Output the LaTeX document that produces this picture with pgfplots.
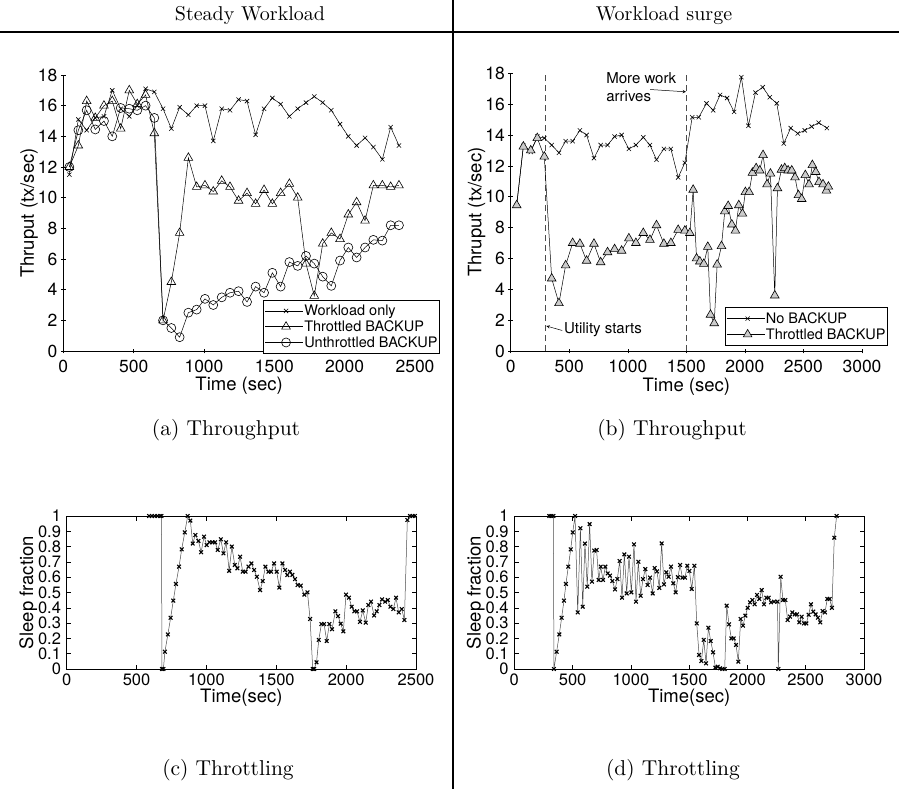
\documentclass[border=0pt]{standalone}
\usepackage{fontspec}
\usepackage{graphicx}
\newfontfamily\hv{TeX Gyre Heros}
\usepackage{pgfplots}
\usepackage{pgfplotstable}
\pgfplotsset{compat=1.18}
\newcommand\tkf{\hv\fontsize{17.5}{18}\selectfont}
\newcommand\tkbf{\hv\fontsize{16.5}{17}\selectfont}
\newcommand\labf{\hv\fontsize{18.5}{20}\selectfont}
\newcommand\lgf{\hv\fontsize{14.5}{16}\selectfont}
\newcommand\anf{\hv\fontsize{15}{17}\selectfont}

\pgfplotstableread{
x w t u
43 11.5 12.0 12.0
107 15.1 13.4 14.4
166 14.4 16.3 15.7
227 15.2 15.2 14.45
289 15.3 16.0 15.0
348 17.0 16.3 14.0
408 15.8 14.5 15.85
469 15.3 17.0 15.8
526 16.0 16.1 15.7
585 17.1 16.7 16.0
647 16.9 14.2 15.2
709 15.8 2.0 2.0
768 14.5 4.5 1.5
827 15.9 7.7 0.9
889 15.4 12.6 2.5
948 16.0 10.7 2.7
1007 16.0 10.8 3.4
1066 13.7 10.4 3.0
1126 15.8 11.1 3.5
1185 15.7 10.7 3.8
1246 16.4 9.8 3.9
1306 16.3 10.3 3.2
1367 14.1 9.6 4.2
1427 15.8 10.5 3.8
1486 16.5 9.6 5.1
1545 16.1 10.3 4.2
1607 15.3 10.9 5.8
1666 15.8 10.0 5.55
1725 16.2 5.7 6.2
1784 16.6 3.6 5.7
1844 16.2 7.0 4.85
1905 15.7 7.7 4.25
1967 14.8 7.3 5.9
2026 14.0 8.9 6.75
2085 13.4 9.7 6.1
2145 13.9 8.5 6.75
2204 13.3 10.8 7.25
2268 12.5 10.8 7.2
2327 14.6 10.7 8.2
2386 13.4 10.8 8.2
}\tl

\pgfplotstableread{
x y
51 9.45
108 13.3
171 12.9
227 13.9
287 13.8
350 13.35
412 12.85
469 13.6
529 13.6
591 14.3
648 14.0
711 12.5
768 13.35
827 13.35
887 13.9
947 14.0
1009 13.1
1069 13.35
1132 13.85
1189 13.35
1245 12.4
1308 13.1
1368 13.1
1430 11.25
1487 12.2
1550 15.15
1606 15.15
1672 16.05
1729 15.6
1788 16.6
1848 16.4
1908 15.5
1970 17.75
2030 14.6
2090 16.75
2152 17.1
2212 16.45
2272 16.05
2332 13.45
2391 14.45
2451 14.1
2511 14.3
2570 14.55
2630 14.8
2700 14.45
}\trn

\pgfplotstableread{
x y
51 9.45
108 13.25
171 13.0
227 13.8
287 12.6
350 4.7
412 3.1
469 5.55
529 7.0
591 6.95
648 5.85
711 6.95
768 5.75
827 6.4
887 6.6
947 6.5
1009 7.3
1069 7.0
1132 7.65
1189 7.2
1245 8.15
1308 6.95
1368 7.0
1430 7.85
1487 7.8
1530 7.65
1558 10.45
1587 6.0
1615 5.8
1649 5.65
1683 6.75
1706 2.35
1738 1.8
1763 5.6
1800 6.8
1828 9.05
1857 9.4
1888 8.2
1919 7.8
1948 9.45
1979 8.9
2004 10.3
2036 10.3
2064 11.55
2096 11.85
2127 11.7
2155 12.7
2189 10.8
2218 11.5
2255 3.6
2278 10.55
2312 11.75
2340 11.85
2369 11.7
2400 11.7
2428 11.25
2457 10.1
2485 9.85
2516 11.4
2548 10.8
2576 12.05
2605 11.6
2633 10.95
2667 10.8
2696 10.4
2713 10.65
}\trt

\pgfplotstableread{
x y
590 1
610 1
630 1
650 1
670 1
678 1
682 0
692 0
703 0.113
724 0.226
744 0.335
763 0.447
782 0.556
804 0.669
823 0.782
845 0.893
866 1.0
885 0.97
902 0.82
921 0.876
943 0.837
962 0.763
983 0.865
1002 0.81
1021 0.828
1043 0.828
1062 0.828
1081 0.778
1103 0.848
1122 0.756
1141 0.828
1163 0.642
1182 0.8
1203 0.68
1222 0.658
1241 0.734
1260 0.636
1280 0.636
1301 0.669
1322 0.69
1341 0.647
1361 0.603
1384 0.516
1403 0.575
1422 0.669
1444 0.636
1463 0.636
1484 0.69
1503 0.636
1522 0.532
1544 0.69
1563 0.647
1579 0.614
1598 0.636
1615 0.615
1634 0.588
1653 0.549
1675 0.545
1701 0.486
1723 0.501
1742 0.327
1761 0
1771 0
1788 0.044
1804 0.19
1823 0.294
1842 0.294
1861 0.183
1880 0.294
1899 0.26
1923 0.377
1942 0.346
1961 0.296
1980 0.246
1999 0.486
2020 0.466
2040 0.407
2059 0.377
2078 0.377
2099 0.308
2119 0.383
2140 0.303
2159 0.418
2178 0.44
2200 0.35
2219 0.377
2238 0.418
2257 0.455
2279 0.44
2298 0.451
2317 0.407
2338 0.392
2357 0.466
2376 0.37
2398 0.392
2417 0.32
2438 0.974
2457 1
2476 1
2492 1
}\sl

\pgfplotstableread{
x y
300 1
318 1
335 1
340 0
363 0.113
386 0.226
406 0.335
426 0.447
443 0.556
463 0.669
484 0.782
501 0.893
521 1.0
544 0.37
567 0.92
587 0.407
606 0.82
626 0.538
646 0.947
666 0.571
686 0.774
706 0.778
724 0.582
741 0.669
761 0.582
781 0.669
801 0.625
821 0.61
841 0.575
864 0.52
884 0.588
904 0.706
924 0.466
944 0.749
964 0.494
984 0.734
1004 0.501
1027 0.815
1044 0.44
1064 0.701
1084 0.479
1104 0.588
1124 0.653
1144 0.549
1164 0.597
1187 0.494
1204 0.66
1224 0.638
1244 0.53
1264 0.821
1284 0.553
1304 0.632
1324 0.603
1344 0.669
1364 0.56
1384 0.501
1404 0.6
1422 0.68
1442 0.597
1464 0.597
1484 0.675
1502 0.641
1522 0.523
1545 0.675
1565 0.298
1585 0.092
1605 0.052
1625 0.19
1645 0.037
1665 0.27
1685 0.183
1705 0.109
1725 0.009
1745 0.015
1765 0.005
1785 0
1805 0
1822 0.414
1842 0.292
1862 0.2
1882 0.2
1902 0.157
1922 0.048
1942 0.327
1962 0.283
1982 0.349
2002 0.4
2022 0.436
2042 0.451
2062 0.423
2082 0.484
2102 0.458
2122 0.516
2142 0.423
2162 0.466
2182 0.466
2202 0.436
2228 0.44
2258 0.44
2265 0
2285 0.603
2305 0.451
2325 0.451
2345 0.32
2365 0.342
2385 0.37
2405 0.357
2425 0.357
2445 0.305
2465 0.342
2485 0.298
2505 0.298
2525 0.355
2545 0.423
2565 0.375
2585 0.357
2605 0.335
2625 0.305
2645 0.379
2665 0.37
2685 0.458
2705 0.458
2725 0.4
2745 0.858
2765 1.0
}\sr

\pgfplotsset{
  base/.style={scale only axis, anchor=south west, tick align=inside,
    /pgf/number format/assume math mode=true,
    /pgf/number format/1000 sep={},
    tick label style={font=\tkf},
    label style={font=\labf, inner sep=0pt},
    major tick length=4.5pt,
    every tick/.style={black, line width=0.5pt},
    axis line style={line width=0.6pt},
    yticklabel style={inner sep=0pt, anchor=east, xshift=-3.5pt},
  },
  topax/.style={base, axis x line=bottom, axis y line=left,
    axis line style={-, line width=0.6pt},
    xticklabel style={inner sep=0pt, anchor=north, yshift=-7pt},
    ymin=0, ymax=18, ytick={0,2,...,18},
    xlabel={Time (sec)}, ylabel={Thruput (tx/sec)},
    xlabel style={at={(axis description cs:0.5,-0.127)}, anchor=center},
    ylabel style={at={(axis description cs:-0.097,0.5)}, anchor=center},
    legend cell align=left,
    legend image code/.code={\path (0pt,0pt) -- (38pt,0pt); \draw[mark repeat=2,mark phase=2,##1] plot coordinates {(8pt,0pt) (21pt,0pt) (34pt,0pt)};},
  },
  botax/.style={base, xtick pos=both, ytick pos=both,
    tick label style={font=\tkbf},
    xticklabel style={inner sep=0pt, anchor=north, yshift=-4.5pt},
    yticklabel style={xshift=-2pt},
    ymin=0, ymax=1, ytick={0,0.1,0.2,0.3,0.4,0.5,0.6,0.7,0.8,0.9,1},
    xlabel={Time(sec)}, ylabel={Sleep fraction},
    xlabel style={at={(axis description cs:0.5,-0.19)}, anchor=center},
    ylabel style={at={(axis description cs:-0.11,0.5)}, anchor=center},
    clip mode=individual,
  },
  lgd/.style={legend style={font=\lgf, draw=black, line width=0.8pt, fill=white, inner xsep=1pt, inner ysep=4pt, row sep=1.5pt, nodes={inner sep=1pt}}},
  ln/.style={black, line width=0.5pt},
  sl/.style={black!70, line width=0.5pt, mark=x, mark size=2.6pt, mark options={black, solid, line width=1.1pt}},
}

\begin{document}
\begin{tikzpicture}
\path[use as bounding box] (0pt,0pt) rectangle (899pt,-789pt);
\draw[line width=1.3pt] (453pt,0pt) -- (453pt,-789pt);
\draw[line width=2pt] (0pt,-32.5pt) -- (899pt,-32.5pt);
\node[scale=2.0, font=\fontsize{10}{12}\selectfont] at (250pt,-16pt) {Steady Workload};
\node[scale=2.0, font=\fontsize{10}{12}\selectfont] at (664pt,-16pt) {Workload surge};
\node[scale=2.15, font=\fontsize{10}{12}\selectfont] at (226pt,-430pt) {(a) Throughput};
\node[scale=2.15, font=\fontsize{10}{12}\selectfont] at (672pt,-430pt) {(b) Throughput};
\node[scale=2.15, font=\fontsize{10}{12}\selectfont] at (228pt,-770pt) {(c) Throttling};
\node[scale=2.15, font=\fontsize{10}{12}\selectfont] at (673pt,-770pt) {(d) Throttling};

% (a)
\begin{axis}[topax, lgd, at={(63.3pt,-351pt)}, width=351.7pt, height=276pt,
  xmin=0, xmax=2500, xtick={0,500,...,2500},
  legend style={at={(1.071,-0.011)}, anchor=south east}]
\addplot[ln, mark=x, mark size=3pt, mark options={solid, line width=0.6pt}] table[x=x,y=w] {\tl};
\addlegendentry{Workload only}
\addplot[ln, mark=triangle, mark size=5pt, mark options={solid, line width=0.6pt}] table[x=x,y=t] {\tl};
\addlegendentry{Throttled BACKUP}
\addplot[ln, mark=o, mark size=4.5pt, mark options={solid, line width=0.6pt}] table[x=x,y=u] {\tl};
\addlegendentry{Unthrottled BACKUP}
\end{axis}

% (b)
\begin{axis}[topax, lgd, at={(510.7pt,-351pt)}, width=351.3pt, height=277.7pt,
  xmin=0, xmax=3000, xtick={0,500,...,3000}, clip=false,
  legend style={at={(1.074,0.018)}, anchor=south east}]
\addplot[black!70, dash pattern=on 6pt off 4pt, line width=0.8pt, forget plot] coordinates {(300,0) (300,18)};
\addplot[black!70, dash pattern=on 6pt off 4pt, line width=0.8pt, forget plot] coordinates {(1500,0) (1500,18)};
\addplot[ln, mark=x, mark size=3pt, mark options={solid, line width=0.6pt}] table[x=x,y=y] {\trn};
\addlegendentry{No BACKUP}
\addplot[ln, mark=triangle*, mark size=5pt, mark options={solid, line width=0.6pt, fill=gray!40, draw=black}] table[x=x,y=y] {\trt};
\addlegendentry{Throttled BACKUP}
\draw[-stealth, line width=0.5pt] (axis cs:440,1.33) -- (axis cs:305,1.62);
\node[anchor=west, font=\anf, inner sep=1pt] at (axis cs:445,1.38) {Utility starts};
\node[anchor=west, font=\anf, inner sep=0pt] at (axis cs:815,17.67) {More work};
\node[anchor=west, font=\anf, inner sep=0pt] at (axis cs:815,16.5) {arrives};
\draw[-stealth, line width=0.5pt] (axis cs:1190,16.95) -- (axis cs:1497,16.8);
\end{axis}

% (c)
\begin{axis}[botax, at={(66.7pt,-669pt)}, width=349.3pt, height=153pt,
  xmin=0, xmax=2500, xtick={0,500,...,2500}]
\addplot[sl] table[x=x,y=y] {\sl};
\end{axis}

% (d)
\begin{axis}[botax, at={(514.3pt,-669pt)}, width=349.7pt, height=153pt,
  xmin=0, xmax=3000, xtick={0,500,...,3000}]
\addplot[sl] table[x=x,y=y] {\sr};
\end{axis}
\end{tikzpicture}
\end{document}
